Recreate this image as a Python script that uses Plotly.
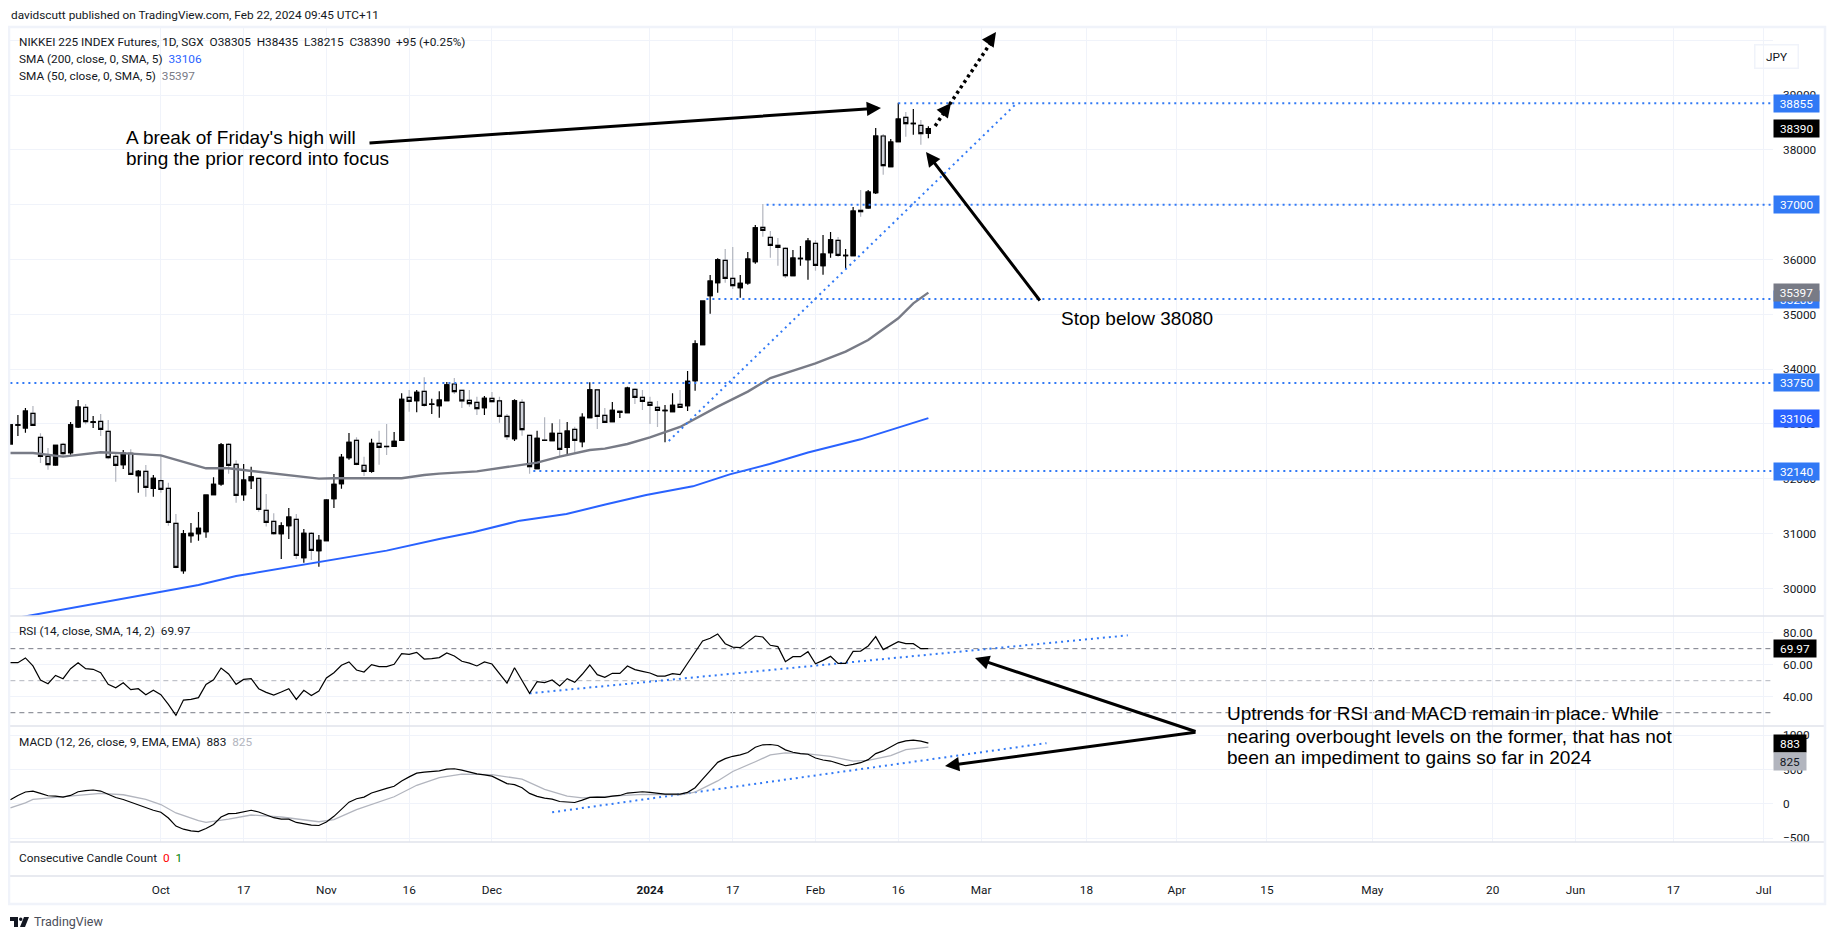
import plotly.graph_objects as go

# Daily bars
opens = [32635, 32980, 32927, 33195, 32757, 32410, 32252, 32629, 32477, 32945,
         33304, 33030, 33049, 32866, 32410, 32258, 32465, 32057, 32136, 31826,
         31966, 31826, 31187, 30324, 30962, 31000, 31035, 31710, 31905, 32629,
         32264, 31710, 31966, 32009, 31425, 31224, 31000, 31145, 31260, 30561,
         31005, 30689, 30871, 31637, 31911, 32386, 32702, 32246, 32136, 32647,
         32592, 32593, 32702, 33487, 33426, 33596, 33359, 33335, 33426, 33730,
         33614, 33432, 33395, 33298, 33468, 33420, 33140, 32732, 33395, 32793,
         32185, 32708, 32696, 32830, 32574, 32903, 32678, 33116, 33621, 33158,
         33043, 33213, 33207, 33633, 33487, 33395, 33304, 33243, 33225, 33359,
         33335, 33790, 34448, 35342, 35579, 35987, 35658, 35488, 35573, 35962,
         36589, 36406, 36260, 36206, 35707, 36017, 35999, 36297, 35889, 36126,
         36351, 36072, 36072, 36899, 36941, 37221, 38255, 37695, 38152, 38596,
         38480, 38450, 38305]
highs = [32982, 33164, 33292, 33329, 32830, 32562, 32617, 32659, 33037, 33438,
         33365, 33146, 33183, 33073, 32447, 32526, 32538, 32161, 32252, 32069,
         32416, 31929, 31358, 31066, 31193, 31394, 31704, 32027, 32653, 32653,
         32337, 32270, 32221, 32009, 31723, 31370, 31206, 31467, 31358, 31084,
         31029, 30974, 31625, 32088, 32453, 32836, 32757, 32404, 32732, 32878,
         33000, 32854, 33560, 33621, 33621, 33852, 33462, 33596, 33767, 33840,
         33620, 33621, 33499, 33511, 33584, 33499, 33183, 33450, 33450, 32793,
         32878, 33122, 33012, 33085, 33037, 32951, 33195, 33760, 33621, 33292,
         33402, 33231, 33681, 33651, 33621, 33499, 33420, 33347, 33560, 33621,
         33967, 34527, 35244, 35719, 36023, 36193, 36230, 35719, 36139, 36631,
         37015, 36522, 36394, 36224, 36175, 36248, 36394, 36351, 36449, 36504,
         36412, 36193, 36960, 37270, 37270, 38401, 38292, 38200, 38863, 38693,
         38748, 38547, 38435]
lows = [32635, 32781, 32842, 32976, 32288, 32167, 32240, 32398, 32440, 32927,
        32994, 32927, 32781, 32355, 31948, 32179, 32069, 31747, 31674, 31674,
        31747, 31145, 30366, 30269, 30834, 30871, 30926, 31710, 31875, 32094,
        31564, 31601, 31814, 31400, 31127, 30980, 30536, 30901, 30536, 30470,
        30518, 30397, 30871, 31467, 31820, 32349, 32246, 32051, 32112, 32258,
        32434, 32586, 32690, 33225, 33213, 33316, 33183, 33116, 33414, 33548,
        33292, 33316, 33164, 33164, 33395, 33024, 32708, 32690, 32787, 32094,
        32173, 32696, 32690, 32404, 32434, 32477, 32574, 33116, 32909, 33024,
        33037, 33110, 33201, 33365, 33256, 33000, 32945, 32666, 33219, 33298,
        33237, 33608, 34448, 35013, 35396, 35579, 35463, 35305, 35542, 35926,
        36418, 36035, 35889, 35664, 35700, 35889, 35634, 35798, 35725, 36035,
        36047, 35834, 36066, 36783, 36929, 37197, 37549, 37690, 38152, 38243,
        38279, 38097, 38215]
closes = [32982, 32985, 33237, 32976, 32410, 32258, 32611, 32459, 32982, 33310,
          33043, 33040, 32903, 32386, 32246, 32465, 32082, 32136, 31844, 32009,
          31808, 31206, 30384, 30993, 31005, 31096, 31704, 31899, 32617, 32246,
          31698, 31978, 32033, 31443, 31206, 31000, 31139, 31303, 30603, 31005,
          30695, 30877, 31613, 31899, 32392, 32665, 32264, 32136, 32647, 32574,
          32586, 32684, 33450, 33414, 33578, 33341, 33365, 33438, 33712, 33590,
          33420, 33371, 33280, 33468, 33408, 33140, 32769, 33420, 32897, 32221,
          32739, 32702, 32830, 32538, 32872, 32702, 33122, 33621, 33140, 33030,
          33249, 33231, 33657, 33487, 33414, 33341, 33249, 33249, 33341, 33304,
          33779, 34460, 35244, 35609, 35993, 35658, 35524, 35567, 36011, 36577,
          36534, 36260, 36224, 35707, 36029, 36023, 36339, 35895, 36102, 36358,
          36078, 36078, 36887, 36875, 37233, 38255, 37714, 38146, 38565, 38480,
          38486, 38298, 38390]

# Moving averages, read at the bars where the line changes slope
sma50_bar = [0, 3, 7, 12, 16, 20, 23, 26, 29, 32, 36, 41, 43, 47, 52, 55, 57, 62, 64, 67,
             70, 73, 77, 79, 82, 85, 89, 94, 98, 101, 107, 111, 114, 118, 120, 122]
sma50_val = [32471, 32471, 32404, 32483, 32459, 32428, 32307, 32191, 32191, 32142, 32075,
             32003, 32009, 32015, 32009, 32069, 32094, 32136, 32173, 32234, 32294, 32404,
             32526, 32550, 32635, 32757, 32945, 33316, 33590, 33839, 34107, 34320, 34533,
             34928, 35202, 35397]
sma200_bar = [0, 3, 15, 25, 30, 37, 43, 50, 57, 61.5, 67.7, 73.9, 79.2, 84.5, 90.7, 95.6, 100.9, 106, 113, 122]
sma200_val = [29440, 29515, 29819, 30062, 30226, 30384, 30518, 30689, 30901, 31023, 31236,
              31358, 31534, 31704, 31862, 32081, 32270, 32480, 32720, 33106]

rsi_vals = [61.25, 61.25, 64.2, 59.2, 50.4, 48.1, 53.3, 51.25, 57.5, 61.25,
            57.5, 57.1, 55, 47.7, 45.6, 48.75, 44.4, 45, 41.25, 44,
            41.25, 35.2, 28.3, 37.9, 38.3, 39.4, 47.7, 50.6, 57.9, 54.2,
            47.7, 50.8, 51.25, 45, 42.7, 41, 42.9, 45, 38.3, 44,
            40.8, 43.5, 51.7, 55, 59.6, 61.7, 56.7, 55.4, 60, 58.75,
            58.75, 60.2, 66.9, 66.5, 67.7, 63.5, 63.75, 64.4, 67.3, 65.4,
            62.1, 61, 59.2, 61.7, 60.4, 54.6, 48.5, 58.1, 49.8, 42.1,
            49.4, 48.75, 50.4, 46.7, 51.25, 49, 54, 59.8, 53.75, 52.1,
            54.6, 54.6, 59.2, 56.9, 55.8, 54.8, 52.9, 52.9, 54.4, 53.75,
            60.9, 67.7, 74.8, 76.5, 79.2, 73.1, 71, 70.6, 74.4, 77.9,
            77.3, 72.1, 71.25, 61.9, 65, 65, 68.1, 60.6, 62.7, 65.2,
            60.8, 60.8, 68.3, 68.5, 71.7, 77.5, 69.4, 72.1, 74.4, 73.1,
            73.1, 70, 69.97]
macd_vals = [59, 122, 172, 186, 152, 118, 113, 98, 122, 176,
             191, 201, 186, 137, 93, 64, 25, -15, -64, -93,
             -122, -206, -323, -368, -392, -402, -358, -299, -191, -142,
             -137, -113, -93, -118, -157, -201, -221, -221, -270, -289,
             -309, -314, -265, -181, -74, 25, 74, 98, 157, 196,
             225, 255, 333, 392, 446, 461, 470, 480, 505, 510,
             490, 461, 436, 421, 402, 348, 294, 279, 235, 152,
             108, 83, 69, 34, 29, 20, 54, 93, 98, 93,
             113, 122, 157, 172, 176, 167, 152, 142, 142, 142,
             167, 235, 358, 480, 603, 657, 691, 711, 745, 823,
             858, 862, 848, 784, 750, 730, 721, 666, 637, 622,
             583, 554, 573, 598, 642, 730, 769, 828, 887, 916,
             926, 911, 883]
signal_bar = [0, 2, 3, 5, 8, 12, 15, 18, 20, 22, 25, 26, 29, 32, 36, 39, 41, 43, 46, 51, 54,
              57, 60, 64, 68, 71, 74, 76, 81, 84, 89, 91, 94, 96, 99, 101, 103, 106, 109,
              112, 114, 117, 119, 122]
signal_val = [-59, 15, 64, 83, 103, 152, 132, 64, -10, -132, -245, -270, -221, -162, -191,
              -230, -260, -230, -83, 103, 270, 382, 431, 426, 358, 211, 113, 88, 113, 137,
              132, 171, 333, 470, 612, 711, 740, 725, 691, 622, 632, 701, 789, 825]

# Tick labels
x_tick_bars = [20, 31, 42, 53, 64, 85, 96, 107, 118, 129, 143, 155, 167, 181, 197, 208, 221, 233]
x_tick_text = ["Oct", "17", "Nov", "16", "Dec", "<b>2024</b>", "17", "Feb", "16", "Mar",
               "18", "Apr", "15", "May", "20", "Jun", "17", "Jul"]
price_ticks = [30000, 31000, 32000, 33000, 34000, 35000, 36000, 37000, 38000, 39000, 40000]
price_tick_text = ["30000", "31000", "32000", "33000", "34000", "35000", "36000", "37000", "38000", "39000", ""]
rsi_ticks = [40, 60, 80]
macd_ticks = [-500, 0, 500, 1000]

# Drawn levels: price, first bar
level_prices = [38855, 37000, 35280, 33750, 32140]
level_starts = [118, 100.5, 92.5, 0, 69.5]

bars = list(range(len(closes)))
assert len(opens) == len(highs) == len(lows) == len(closes) == len(rsi_vals) == len(macd_vals)

BLUE = "#3179f5"
SMA200 = "#2962ff"
SMA50 = "#787b86"
TEXT = "#131722"
GRID = "#f0f3fa"
BORDER = "#e0e3eb"
FONT = "Roboto"
ARIAL = "Liberation Sans"
FS = 11.8
DOTS = "2px,4px"

# Plot box in page pixels. The browser's body margin moves the figure by 8px
LEFT, RIGHT, TOP, BOTTOM = 10, 1773, 28, 842
BODY = 8
X_END = 234.25


def fx(px):
    return (px - LEFT) / (RIGHT - LEFT)


def fy(py):
    return 1 - (py - TOP) / (BOTTOM - TOP)


fig = go.Figure()

# Wicks
fig.add_trace(go.Candlestick(
    x=bars, open=opens, high=highs, low=lows, close=closes,
    increasing=dict(line=dict(color="#000000", width=1.2), fillcolor="#000000"),
    decreasing=dict(line=dict(color="#b2b5be", width=1.2), fillcolor="#b2b5be"),
    whiskerwidth=0, showlegend=False, hoverinfo="skip", yaxis="y"))

# Bodies on top, no wicks, so down bars get a black border and a grey wick
fig.add_trace(go.Candlestick(
    x=bars, open=opens, close=closes,
    high=[max(o, c) for o, c in zip(opens, closes)],
    low=[min(o, c) for o, c in zip(opens, closes)],
    increasing=dict(line=dict(color="#000000", width=1.2), fillcolor="#000000"),
    decreasing=dict(line=dict(color="#000000", width=1.2), fillcolor="#d1d4dc"),
    whiskerwidth=0, showlegend=False, yaxis="y"))


def add_line(x, y, color, width, axis="y", dash="solid"):
    fig.add_trace(go.Scatter(x=x, y=y, mode="lines", yaxis=axis, showlegend=False,
                             hoverinfo="skip", line=dict(color=color, width=width, dash=dash)))


add_line(sma50_bar, sma50_val, SMA50, 2.4)
add_line(sma200_bar, sma200_val, SMA200, 2)

for price, start in zip(level_prices, level_starts):
    add_line([start, X_END], [price, price], BLUE, 2, dash=DOTS)

# Trend lines on price, RSI and MACD
add_line([87.5, 133.5], [32690, 38821], BLUE, 2, dash=DOTS)
add_line([69, 148.5], [42.1, 78.3], BLUE, 2, "y2", dash=DOTS)
add_line([72, 137.7], [-122, 882], BLUE, 2, "y3", dash=DOTS)

# Projected path
add_line([122.9, 130.5], [38438, 40000], "#000000", 3.5, dash="3px,3.5px")

add_line(bars, rsi_vals, "#000000", 1.2, "y2")
add_line(signal_bar, signal_val, "#b2b5be", 1.3, "y3")
add_line(bars, macd_vals, "#000000", 1.2, "y3")

for level, color in [(70, "#787b86"), (50, "#b2b5be"), (30, "#787b86")]:
    fig.add_shape(type="line", xref="x", yref="y2", x0=0, x1=X_END, y0=level, y1=level,
                  line=dict(color=color, width=1, dash="5px,4px"), layer="below")

# Frame and pane borders
for y in [616, 726, 842, 876]:
    fig.add_shape(type="line", xref="paper", yref="paper", x0=fx(9), x1=fx(1825), y0=fy(y), y1=fy(y),
                  line=dict(color=BORDER, width=1.5))
fig.add_shape(type="rect", xref="paper", yref="paper", x0=fx(9), x1=fx(1825), y0=fy(904), y1=fy(27),
              line=dict(color=GRID, width=2.5))

# TradingView logo
fig.add_shape(type="path", xref="paper", yref="paper", fillcolor="#131722", line=dict(width=0),
              path=f"M {fx(10)} {fy(917)} L {fx(18)} {fy(917)} L {fx(18)} {fy(927)} L {fx(14)} {fy(927)} "
                   f"L {fx(14)} {fy(921)} L {fx(10)} {fy(921)} Z "
                   f"M {fx(24)} {fy(917)} L {fx(29)} {fy(917)} L {fx(25)} {fy(927)} L {fx(20)} {fy(927)} Z")
fig.add_shape(type="circle", xref="paper", yref="paper", fillcolor="#131722", line=dict(width=0),
              x0=fx(19), x1=fx(22.5), y0=fy(921), y1=fy(917.5))


def note(px, py, text, size=FS, color=TEXT, font=FONT):
    fig.add_annotation(xref="paper", yref="paper", x=fx(px), y=fy(py), text=text, showarrow=False,
                       xanchor="left", yanchor="middle", align="left", borderpad=0,
                       font=dict(family=font, size=size, color=color))


note(10, 15, "davidscutt published on TradingView.com, Feb 22, 2024 09:45 UTC+11")
note(18, 42, "NIKKEI 225 INDEX Futures, 1D, SGX&nbsp;&nbsp;O38305&nbsp;&nbsp;H38435&nbsp;&nbsp;L38215&nbsp;&nbsp;C38390&nbsp;&nbsp;+95 (+0.25%)")
note(18, 59, f"SMA (200, close, 0, SMA, 5)&nbsp;&nbsp;<span style='color:{SMA200}'>33106</span>")
note(18, 76, f"SMA (50, close, 0, SMA, 5)&nbsp;&nbsp;<span style='color:{SMA50}'>35397</span>")
note(18, 631, "RSI (14, close, SMA, 14, 2)&nbsp;&nbsp;69.97")
note(18, 742, "MACD (12, 26, close, 9, EMA, EMA)&nbsp;&nbsp;883&nbsp;&nbsp;<span style='color:#b2b5be'>825</span>")
note(18, 858, "Consecutive Candle Count&nbsp;&nbsp;<span style='color:#ff0000'>0</span>&nbsp;&nbsp;<span style='color:#008000'>1</span>")
note(33, 922, "TradingView", size=12.5, color="#4a4e59")

# Commentary, one note per line since the line spacing is tighter than plotly's
for py, line in [(137, "A break of Friday's high will"), (158, "bring the prior record into focus"),
                 (318, "Stop below 38080")]:
    note(1060 if py == 318 else 125, py, line, size=19, color="#000000", font=ARIAL)
for py, line in [(713, "Uptrends for RSI and MACD remain in place. While"),
                 (736, "nearing overbought levels on the former, that has not"),
                 (757, "been an impediment to gains so far in 2024")]:
    note(1226, py, line, size=19, color="#000000", font=ARIAL)


def arrow(x0, y0, x1, y1, width=3, head_size=0.95):
    # from page point 0 to the tip at page point 1
    fig.add_annotation(xref="paper", yref="paper", x=fx(x1), y=fy(y1), ax=x0 - x1, ay=y0 - y1,
                       axref="pixel", ayref="pixel", text="", showarrow=True,
                       arrowhead=2, arrowsize=head_size, arrowwidth=width, arrowcolor="#000000")


arrow(368, 143, 881, 108)
arrow(1041, 302, 926, 152)
arrow(1197, 732, 975, 658)
arrow(1197, 732, 945, 766)
arrow(944, 112, 951, 103)
arrow(989, 42, 996, 32)


def price_label(axis, value, text, bg, fg="#ffffff", width=41):
    fig.add_annotation(xref="paper", yref=axis, x=1, y=value, text=text, showarrow=False,
                       xanchor="left", yanchor="middle", width=width, height=13, borderpad=2,
                       bgcolor=bg, align="center", font=dict(family=FONT, size=FS, color=fg))


for price in [38855, 37000, 35280, 33750, 32140]:
    price_label("y", price, str(price), BLUE)
price_label("y", 38390, "38390", "#000000")
price_label("y", 35397, "35397", SMA50)
price_label("y", 33106, "33106", SMA200)
price_label("y2", 69.97, "69.97", "#000000", width=38)
# TradingView stacks the two MACD labels, the lower one sits below its value
price_label("y3", 883, "883", "#000000", width=28)
price_label("y3", 617, "825", "#b2b5be", fg=TEXT, width=28)

fig.add_annotation(xref="paper", yref="paper", x=fx(1799), y=fy(44), text="JPY", showarrow=False,
                   width=40, height=20, bordercolor=GRID, borderwidth=1.5, borderpad=1,
                   font=dict(family=FONT, size=FS, color=TEXT))

y_common = dict(side="right", anchor="x", showline=False, zeroline=False, gridcolor=GRID, gridwidth=1,
                tickfont=dict(family=FONT, size=FS, color=TEXT), ticks="",
                ticklabelstandoff=9, tickmode="array")

fig.update_layout(
    width=1835 - BODY, height=939 - BODY, autosize=False,
    paper_bgcolor="#ffffff", plot_bgcolor="#ffffff",
    margin=dict(l=LEFT - BODY, r=1835 - RIGHT, t=TOP - BODY, b=939 - BOTTOM, pad=0),
    showlegend=False, hovermode=False, boxgap=0.47, boxgroupgap=0,
    xaxis=dict(anchor="y3", range=[-0.05, X_END], type="linear", rangeslider=dict(visible=False),
               tickmode="array", tickvals=x_tick_bars, ticktext=x_tick_text, showgrid=True, gridcolor=GRID,
               showline=False, zeroline=False, ticks="", ticklabelstandoff=39,
               tickfont=dict(family=FONT, size=FS, color=TEXT)),
    yaxis=dict(domain=[(842 - 616) / 814, 1], range=[29496, 40226], tickvals=price_ticks,
               ticktext=price_tick_text, **y_common),
    yaxis2=dict(domain=[(842 - 726) / 814, (842 - 616) / 814], range=[21.7, 90.4], tickvals=rsi_ticks,
                tickformat=".2f", **y_common),
    yaxis3=dict(domain=[0, (842 - 726) / 814], range=[-554, 1131], tickvals=macd_ticks, **y_common),
)

fig.write_html("out.html")
